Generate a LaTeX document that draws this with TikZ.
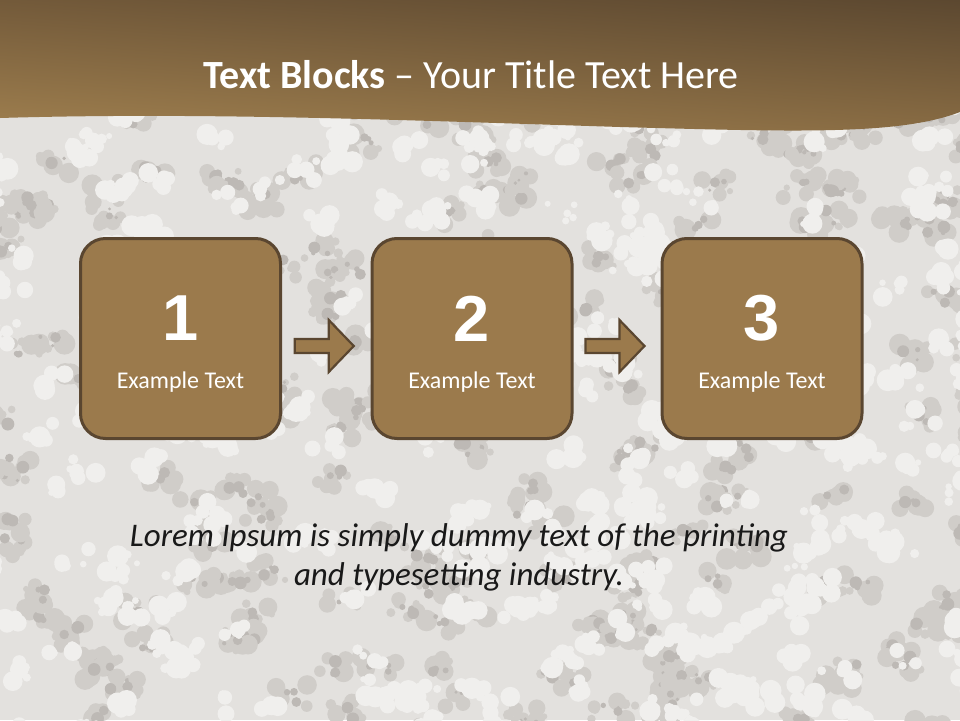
\documentclass[tikz,border=0pt]{standalone}
\usepackage{fontspec}
\setmainfont{Carlito}
\newfontfamily\numfont{Liberation Sans}
\usetikzlibrary{shadings,calc}
\definecolor{boxfill}{HTML}{9B7A4C}
\definecolor{boxline}{HTML}{5A4630}
\definecolor{stone}{HTML}{E3E1DE}
\definecolor{stonemid}{HTML}{D0CDC9}
\definecolor{stonedark}{HTML}{BDB9B5}
\definecolor{stonelight}{HTML}{F0EFED}
\definecolor{hUL}{HTML}{735A3A}
\definecolor{hUR}{HTML}{5C4830}
\definecolor{hLL}{HTML}{A0804F}
\definecolor{hLR}{HTML}{8A6D44}
\tikzset{
  stepbox/.style={draw=boxline, line width=3pt, fill=boxfill, rounded corners=25pt,
    minimum width=200pt, minimum height=200pt, inner sep=0pt},
  numtext/.style={text=white, font=\numfont\bfseries\fontsize{65}{70}\selectfont},
  labtext/.style={text=white, font=\fontsize{24}{28}\selectfont},
  blockarrow/.style={draw=boxline, line width=2.2pt, fill=boxfill, line join=miter}
}
\begin{document}
\begin{tikzpicture}[x=1pt,y=-1pt]
\useasboundingbox (0,0) rectangle (960,720);
% stone background
\fill[stone] (0,0) rectangle (960,720);
\begin{scope}
\clip (0,0) rectangle (960,720);
\pgfmathsetseed{11}
\foreach \i in {1,...,220}{
  \pgfmathsetmacro{\px}{480+500*rand}
  \pgfmathsetmacro{\py}{420+320*rand}
  \foreach \j in {1,...,6}{
    \pgfmathsetmacro{\dx}{18*rand}
    \pgfmathsetmacro{\dy}{12*rand}
    \pgfmathsetmacro{\rr}{7+4*rand}
    \fill[stonemid] (\px+\dx,\py+\dy) circle [radius=\rr];
  }
  \foreach \j in {1,...,3}{
    \pgfmathsetmacro{\dx}{10*rand}
    \pgfmathsetmacro{\dy}{7*rand}
    \pgfmathsetmacro{\rr}{4+2.5*rand}
    \fill[stonedark] (\px+\dx,\py+\dy) circle [radius=\rr];
  }
}
\foreach \i in {1,...,260}{
  \pgfmathsetmacro{\px}{480+500*rand}
  \pgfmathsetmacro{\py}{420+320*rand}
  \foreach \j in {1,...,5}{
    \pgfmathsetmacro{\dx}{16*rand}
    \pgfmathsetmacro{\dy}{11*rand}
    \pgfmathsetmacro{\rr}{7+4*rand}
    \fill[stonelight] (\px+\dx,\py+\dy) circle [radius=\rr];
  }
}
\end{scope}
% header
\shade[upper left=hUL, upper right=hUR, lower left=hLL, lower right=hLR]
  (0,0) -- (960,0) -- (960,112)
  .. controls (900,135) and (800,132) .. (620,127)
  .. controls (400,120) and (200,112) .. (0,118) -- cycle;
\node[text=white, font=\fontsize{40}{44}\selectfont] (title) at (471,75)
  {\textbf{Text Blocks} -- Your Title Text Here};
% boxes
\node[stepbox] (b1) at (180.5,338.5) {};
\node[stepbox] (b2) at (472,338.5) {};
\node[stepbox] (b3) at (762,338.5) {};
\foreach \b/\n in {b1/1,b2/2,b3/3}{
  \node[numtext] (n\b) at ([yshift=20pt]\b.center) {\n};
  \node[labtext] (l\b) at ([yshift=-44pt]\b.center) {Example Text};
}
% arrows
\coordinate (a1) at ($(b1.east)!0.5!(b2.west)+(-2,7.5)$);
\coordinate (a2) at ($(b2.east)!0.5!(b3.west)+(-2,7.5)$);
\foreach \a in {a1,a2}{
  \draw[blockarrow, shift={(\a)}] (-29.5,-7) -- (4.5,-7) -- (4.5,-26) -- (29.5,0)
    -- (4.5,26) -- (4.5,7) -- (-29.5,7) -- cycle;
}
% lorem
\node[text=black!90, align=center, font=\itshape\fontsize{33}{39}\selectfont] (lorem) at (459,557)
  {Lorem Ipsum is simply dummy text of the printing\\and typesetting industry.};
\end{tikzpicture}
\end{document}
